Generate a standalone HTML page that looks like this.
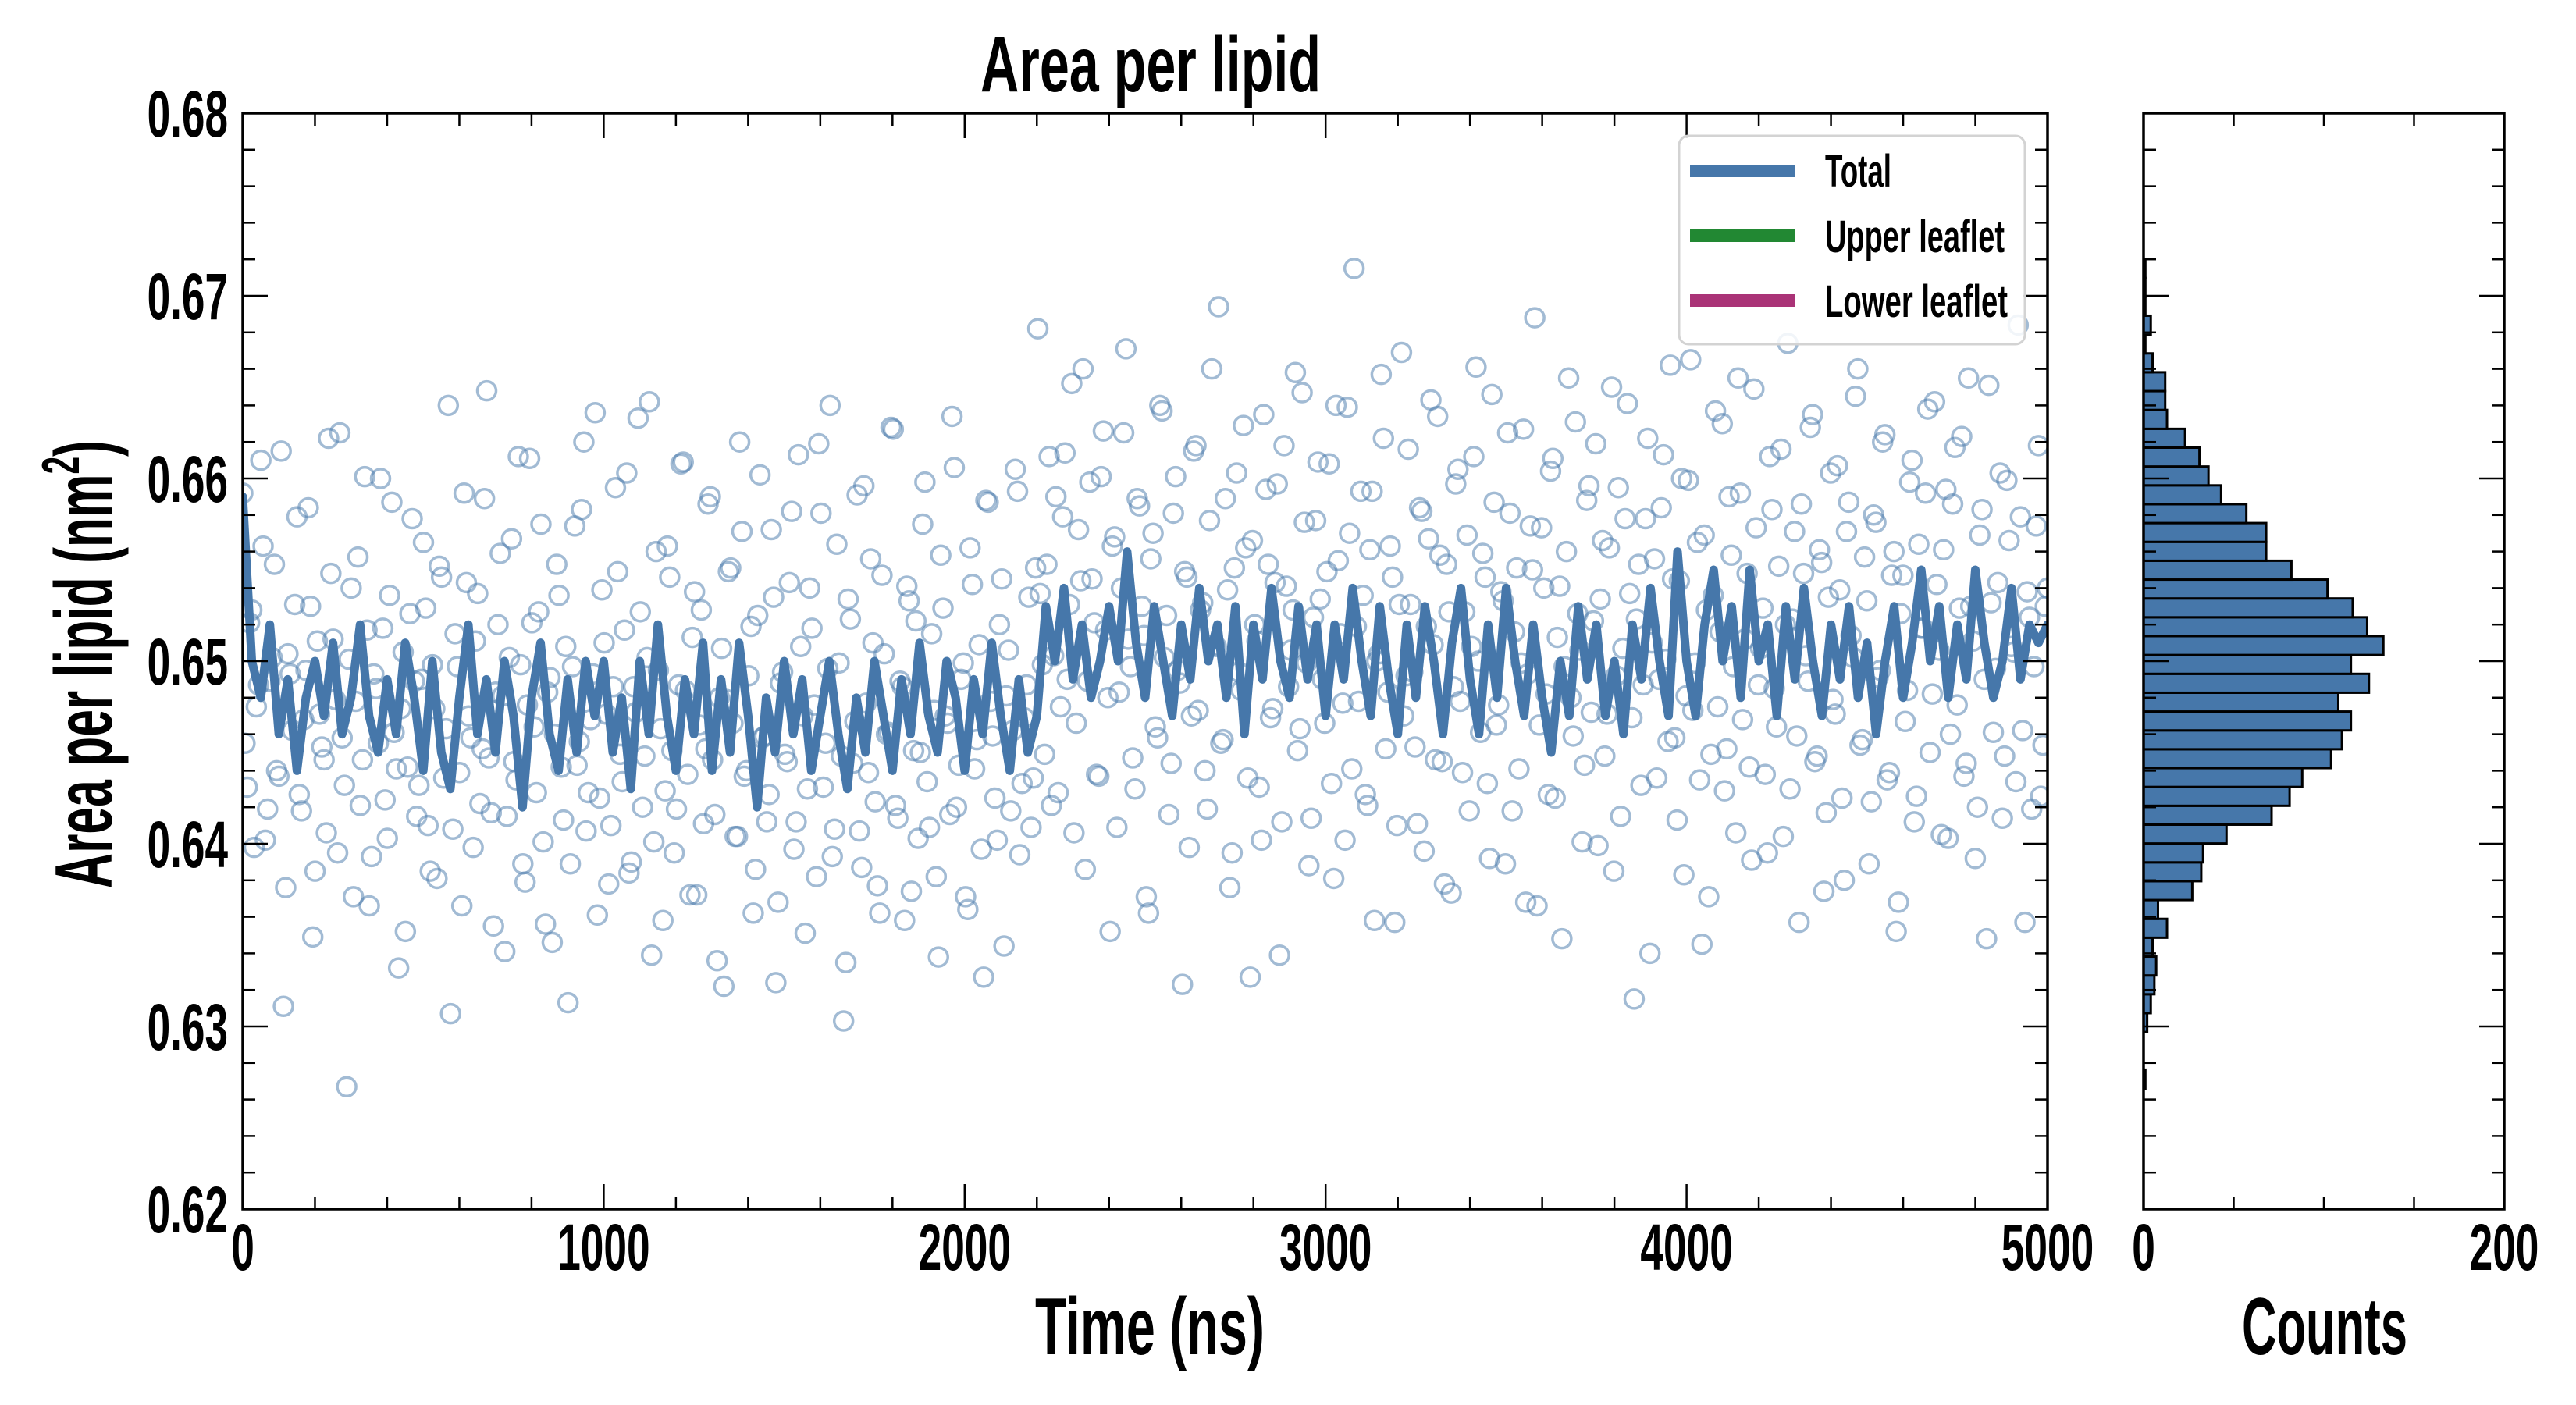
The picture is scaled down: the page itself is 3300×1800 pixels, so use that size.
<!DOCTYPE html>
<html><head><meta charset="utf-8"><style>
html,body{margin:0;padding:0;background:#fff;}
svg{display:block;font-family:"Liberation Sans",sans-serif;font-weight:bold;}
</style></head><body>
<svg id="chart" width="3300" height="1800" viewBox="0 0 3300 1800" xmlns="http://www.w3.org/2000/svg">
<rect x="0" y="0" width="3300" height="1800" fill="#fff"/>
<defs><clipPath id="mainClip"><rect x="311" y="145" width="2312" height="1404"/></clipPath></defs>
<g id="scatter" clip-path="url(#mainClip)"></g>
<g id="lineG" clip-path="url(#mainClip)"></g>
<g id="histG"></g>
<g id="axes"></g>
<g>
 <rect x="2151" y="174" width="443" height="267" rx="12" fill="#fff" fill-opacity="0.85" stroke="#d3d3d3" stroke-width="3"/>
 <rect x="2165" y="211" width="134" height="16" fill="#4677aa"/>
 <rect x="2165" y="294" width="134" height="16" fill="#228833"/>
 <rect x="2165" y="377" width="134" height="16" fill="#aa3377"/>
 <text x="2338" y="239" font-size="58" textLength="85" lengthAdjust="spacingAndGlyphs">Total</text>
 <text x="2338" y="323" font-size="58" textLength="230" lengthAdjust="spacingAndGlyphs">Upper leaflet</text>
 <text x="2338" y="406" font-size="58" textLength="234" lengthAdjust="spacingAndGlyphs">Lower leaflet</text>
</g>
<text x="1256" y="117" font-size="100" textLength="436" lengthAdjust="spacingAndGlyphs">Area per lipid</text>
<text x="1326" y="1735" font-size="104" textLength="294" lengthAdjust="spacingAndGlyphs">Time (ns)</text>
<text x="2872" y="1735" font-size="104" textLength="212" lengthAdjust="spacingAndGlyphs">Counts</text>
<g transform="translate(143,851) rotate(-90) scale(0.6,1)">
 <text x="0" y="0" font-size="104" text-anchor="middle">Area per lipid (nm<tspan font-size="68" dy="-42">2</tspan><tspan dy="42">)</tspan></text>
</g>
</svg>
<script>
const NS='http://www.w3.org/2000/svg';
// ---- data ----
const scatterFirst=[0.6592,0.6431,0.6528,0.6475,0.6610,0.6402,0.6489,0.6553,0.6437,0.6311,0.6504,0.6462,0.6579,0.6418,0.6495,0.6530,0.6385,0.6471,0.6446,0.6622,
0.6512,0.6395,0.6458,0.6267,0.6540,0.6478,0.6421,0.6601,0.6366,0.6493,0.6455,0.6518,0.6403,0.6587,0.6441,0.6474,0.6352,0.6526,0.6489,0.6432,
0.6565,0.6410,0.6498,0.6381,0.6546,0.6463,0.6307,0.6515,0.6439,0.6592,0.6470,0.6398,0.6537,0.6452,0.6648,0.6417,0.6483,0.6559,0.6341,0.6502,
0.6445,0.6612,0.6389,0.6476,0.6521,0.6428,0.6575,0.6356,0.6491,0.6460,0.6536,0.6413,0.6313,0.6497,0.6443,0.6583,0.6407,0.6468,0.6636,0.6425,
0.6510,0.6378,0.6486,0.6549,0.6434,0.6603,0.6390,0.6472,0.6527,0.6448,0.6642,0.6401,0.6495,0.6358,0.6563,0.6451,0.6419,0.6608,0.6484,0.6372,
0.6538,0.6465,0.6411,0.6586,0.6446,0.6336,0.6507,0.6479,0.6551,0.6404,0.6620,0.6437,0.6492,0.6362,0.6525,0.6458,0.6412,0.6572,0.6324,0.6488,
0.6449,0.6543,0.6397,0.6613,0.6470,0.6430,0.6518,0.6382,0.6581,0.6455,0.6640,0.6408,0.6499,0.6303,0.6534,0.6444,0.6591,0.6387,0.6477,0.6556,
0.6423,0.6362,0.6504,0.6461,0.6627,0.6414,0.6486,0.6541,0.6374,0.6522,0.6450,0.6598,0.6409,0.6473,0.6338,0.6529,0.6466,0.6634,0.6420,0.6490,
0.6371,0.6562,0.6441,0.6509,0.6327,0.6587,0.6459,0.6402,0.6545,0.6481,0.6418,0.6605,0.6394,0.6469,0.6535,0.6436];
const scatterSecond=[0.6682,0.6498,0.6553,0.6421,0.6590,0.6475,0.6614,0.6531,0.6406,0.6572,0.6660,0.6489,0.6545,0.6438,0.6601,0.6517,0.6352,0.6568,0.6483,0.6625,
0.6512,0.6447,0.6589,0.6530,0.6371,0.6556,0.6464,0.6640,0.6502,0.6416,0.6581,0.6495,0.6323,0.6546,0.6470,0.6618,0.6528,0.6440,0.6577,0.6509,
0.6694,0.6457,0.6539,0.6395,0.6603,0.6484,0.6562,0.6327,0.6520,0.6431,0.6635,0.6553,0.6474,0.6597,0.6412,0.6541,0.6506,0.6658,0.6463,0.6576,
0.6388,0.6524,0.6609,0.6490,0.6549,0.6433,0.6640,0.6515,0.6402,0.6570,0.6715,0.6478,0.6536,0.6421,0.6593,0.6500,0.6657,0.6452,0.6563,0.6357,
0.6531,0.6470,0.6616,0.6494,0.6411,0.6582,0.6519,0.6643,0.6446,0.6558,0.6378,0.6527,0.6486,0.6605,0.6439,0.6569,0.6508,0.6661,0.6461,0.6546,
0.6392,0.6587,0.6476,0.6533,0.6625,0.6418,0.6551,0.6499,0.6368,0.6574,0.6688,0.6465,0.6540,0.6427,0.6611,0.6513,0.6348,0.6560,0.6480,0.6631,
0.6506,0.6443,0.6596,0.6522,0.6399,0.6566,0.6471,0.6650,0.6492,0.6415,0.6578,0.6537,0.6315,0.6553,0.6487,0.6622,0.6510,0.6436,0.6584,0.6501,
0.6662,0.6458,0.6544,0.6383,0.6599,0.6473,0.6565,0.6345,0.6528,0.6449,0.6637,0.6516,0.6429,0.6590,0.6497,0.6655,0.6468,0.6548,0.6391,0.6573,
0.6507,0.6438,0.6612,0.6485,0.6552,0.6404,0.6674,0.6523,0.6459,0.6586,0.6503,0.6628,0.6445,0.6561,0.6374,0.6535,0.6479,0.6607,0.6425,0.6571,
0.6514,0.6645,0.6454,0.6557,0.6389,0.6580,0.6491,0.6620,0.6435,0.6547,0.6352,0.6526,0.6467,0.6598,0.6412,0.6564,0.6518,0.6638,0.6482,0.6542,
0.6405,0.6594,0.6460,0.6617,0.6529,0.6437,0.6655,0.6511,0.6420,0.6583,0.6348,0.6532,0.6496,0.6603,0.6448,0.6566,0.6505,0.6684,0.6462,0.6538,
0.6419,0.6574,0.6426,0.6530];
const scatterFirstB=[0.6455,0.6521,0.6398,0.6487,0.6563,0.6419,0.6502,0.6440,0.6615,0.6376,0.6493,0.6531,0.6427,0.6468,0.6584,0.6349,0.6511,0.6453,0.6406,0.6548,
0.6479,0.6625,0.6432,0.6501,0.6371,0.6557,0.6446,0.6517,0.6393,0.6485,0.6600,0.6424,0.6536,0.6461,0.6332,0.6505,0.6442,0.6578,0.6415,0.6490,
0.6529,0.6385,0.6474,0.6552,0.6436,0.6640,0.6408,0.6497,0.6366,0.6543,0.6458,0.6511,0.6422,0.6589,0.6447,0.6355,0.6520,0.6481,0.6415,0.6567,
0.6435,0.6498,0.6379,0.6611,0.6464,0.6527,0.6401,0.6483,0.6346,0.6553,0.6442,0.6508,0.6389,0.6574,0.6456,0.6620,0.6428,0.6493,0.6361,0.6539,
0.6471,0.6410,0.6595,0.6449,0.6517,0.6384,0.6486,0.6633,0.6420,0.6502,0.6339,0.6560,0.6463,0.6429,0.6546,0.6395,0.6487,0.6609,0.6438,0.6513,
0.6372,0.6528,0.6452,0.6590,0.6416,0.6480,0.6322,0.6549,0.6466,0.6404,0.6571,0.6440,0.6519,0.6386,0.6602,0.6459,0.6427,0.6535,0.6368,0.6494,
0.6445,0.6582,0.6412,0.6508,0.6351,0.6540,0.6476,0.6619,0.6431,0.6496,0.6393,0.6564,0.6448,0.6335,0.6523,0.6467,0.6407,0.6596,0.6439,0.6510,
0.6377,0.6547,0.6460,0.6628,0.6421,0.6489,0.6358,0.6533,0.6451,0.6403,0.6575,0.6434,0.6515,0.6382,0.6558,0.6470,0.6416,0.6606,0.6443,0.6499,
0.6364,0.6542,0.6457,0.6397,0.6588,0.6478,0.6425,0.6520,0.6344,0.6506,0.6462,0.6593,0.6433,0.6487,0.6409,0.6551];
const scatterSecondB=[0.6537,0.6449,0.6612,0.6503,0.6428,0.6579,0.6490,0.6652,0.6466,0.6544,0.6386,0.6598,0.6521,0.6437,0.6626,0.6480,0.6563,0.6409,0.6540,0.6671,
0.6497,0.6430,0.6585,0.6514,0.6362,0.6570,0.6458,0.6637,0.6525,0.6444,0.6601,0.6488,0.6549,0.6398,0.6615,0.6473,0.6532,0.6419,0.6660,0.6508,
0.6455,0.6589,0.6376,0.6551,0.6494,0.6629,0.6436,0.6566,0.6511,0.6402,0.6594,0.6469,0.6543,0.6339,0.6618,0.6486,0.6528,0.6451,0.6647,0.6499,
0.6414,0.6577,0.6534,0.6466,0.6608,0.6381,0.6555,0.6477,0.6639,0.6441,0.6519,0.6593,0.6427,0.6561,0.6358,0.6504,0.6622,0.6483,0.6546,0.6410,
0.6669,0.6492,0.6531,0.6453,0.6584,0.6396,0.6567,0.6509,0.6634,0.6445,0.6553,0.6373,0.6597,0.6478,0.6527,0.6418,0.6612,0.6500,0.6559,0.6433,
0.6646,0.6465,0.6538,0.6389,0.6581,0.6516,0.6441,0.6627,0.6493,0.6550,0.6366,0.6573,0.6482,0.6604,0.6425,0.6541,0.6497,0.6655,0.6459,0.6526,
0.6401,0.6588,0.6472,0.6619,0.6534,0.6448,0.6562,0.6385,0.6595,0.6507,0.6641,0.6469,0.6523,0.6432,0.6578,0.6340,0.6556,0.6490,0.6613,0.6456,
0.6545,0.6413,0.6600,0.6481,0.6665,0.6499,0.6435,0.6569,0.6371,0.6536,0.6475,0.6630,0.6452,0.6558,0.6406,0.6592,0.6512,0.6442,0.6649,0.6487,
0.6529,0.6395,0.6583,0.6464,0.6616,0.6520,0.6430,0.6571,0.6357,0.6548,0.6489,0.6635,0.6448,0.6554,0.6417,0.6603,0.6471,0.6539,0.6380,0.6587,
0.6502,0.6660,0.6457,0.6533,0.6423,0.6576,0.6495,0.6624,0.6439,0.6560,0.6368,0.6547,0.6484,0.6610,0.6426,0.6518,0.6592,0.6450,0.6642,0.6506,
0.6561,0.6403,0.6586,0.6476,0.6623,0.6444,0.6530,0.6392,0.6569,0.6490,0.6651,0.6461,0.6543,0.6414,0.6599,0.6508,0.6434,0.6579,0.6357,0.6524,
0.6497,0.6618,0.6454,0.6540];
const lineValues=[0.659,0.650,0.648,0.652,0.646,0.649,0.644,0.648,0.650,0.647,0.651,0.646,0.648,0.652,0.647,0.645,0.649,0.646,0.651,0.648,
0.644,0.650,0.645,0.643,0.648,0.652,0.646,0.649,0.645,0.650,0.647,0.642,0.648,0.651,0.646,0.644,0.649,0.645,0.650,0.647,
0.650,0.645,0.648,0.643,0.650,0.646,0.652,0.647,0.644,0.649,0.646,0.651,0.644,0.649,0.645,0.651,0.647,0.642,0.648,0.645,
0.650,0.646,0.649,0.644,0.647,0.650,0.646,0.643,0.648,0.645,0.650,0.647,0.644,0.649,0.646,0.651,0.647,0.645,0.650,0.648,
0.644,0.649,0.646,0.651,0.647,0.644,0.649,0.645,0.647,0.653,0.650,0.654,0.649,0.652,0.648,0.650,0.653,0.650,0.656,0.651,
0.648,0.653,0.650,0.647,0.652,0.649,0.654,0.650,0.652,0.648,0.653,0.646,0.652,0.649,0.654,0.650,0.648,0.653,0.649,0.652,
0.647,0.652,0.649,0.654,0.650,0.647,0.653,0.649,0.646,0.652,0.648,0.653,0.650,0.646,0.651,0.654,0.649,0.646,0.652,0.648,
0.654,0.650,0.647,0.652,0.648,0.645,0.650,0.647,0.653,0.649,0.652,0.647,0.650,0.646,0.652,0.649,0.654,0.650,0.647,0.656,
0.650,0.647,0.652,0.655,0.650,0.653,0.648,0.655,0.650,0.652,0.647,0.653,0.649,0.654,0.650,0.647,0.652,0.649,0.653,0.648,
0.651,0.646,0.650,0.653,0.648,0.651,0.655,0.650,0.653,0.648,0.652,0.649,0.655,0.651,0.648,0.650,0.654,0.649,0.652,0.651,0.652];
const histCounts=[1,0,0,2,4,6,7,5,13,8,27,32,33,46,71,81,88,104,110,115,108,125,115,133,124,116,102,82,68,68,57,43,36,31,23,13,12,12,5,1,4,1,1,1];
const histStart=0.6266;
const histBinWidth=0.001032;
const xTickLabels=['0','1000','2000','3000','4000','5000'];
const yTickLabels=['0.62','0.63','0.64','0.65','0.66','0.67','0.68'];
const histTickLabels=['0','200'];
// ---- axes functions ----
const X0=311,X1=2623,Y0=145,Y1=1549,H0=2746,H1=3208;
const xScale=t=>X0+(t/5000)*(X1-X0);
const yScale=v=>Y1-(v-0.62)/0.06*(Y1-Y0);
const hScale=c=>H0+(c/200)*(H1-H0);
function mk(tag,attrs,parent){const e=document.createElementNS(NS,tag);for(const k in attrs)e.setAttribute(k,attrs[k]);parent.appendChild(e);return e;}
const setA=scatterFirst.concat(scatterSecond);
const setB=scatterFirstB.concat(scatterSecondB);
const scatterValues=[];
for(let i=0;i<setA.length;i++){scatterValues.push(setA[i]);if(i<setB.length)scatterValues.push(setB[i]);}
const sg=document.getElementById('scatter');
const nS=scatterValues.length;
scatterValues.forEach((v,i)=>{
  const c=mk('circle',{cx:xScale(i*5000/(nS-1)),cy:yScale(v),r:12,fill:'none',stroke:'#4677aa','stroke-opacity':0.5,'stroke-width':3.5},sg);
  
  
});
const nL=lineValues.length;
const pts=lineValues.map((v,i)=>xScale(i*5000/(nL-1)).toFixed(1)+','+yScale(v).toFixed(1)).join(' ');
const pl=mk('polyline',{points:pts,fill:'none',stroke:'#4677aa','stroke-width':11,'stroke-linejoin':'round','stroke-linecap':'round'},document.getElementById('lineG'));


const hg=document.getElementById('histG');
histCounts.forEach((c,i)=>{
  const lo=histStart+i*histBinWidth, hi=lo+histBinWidth;
  const ya=yScale(hi), yb=yScale(lo);
  const r=mk('rect',{x:H0,y:ya,width:Math.max(0,hScale(c)-H0),height:yb-ya,fill:'#4677aa',stroke:'#000','stroke-width':3},hg);
  
  
});
const ax=document.getElementById('axes');
function frame(x0,x1){mk('rect',{x:x0,y:Y0,width:x1-x0,height:Y1-Y0,fill:'none',stroke:'#000','stroke-width':3.5},ax);}
frame(X0,X1);frame(H0,H1);
function line(x1,y1,x2,y2,w){mk('line',{x1:x1,y1:y1,x2:x2,y2:y2,stroke:'#000','stroke-width':w||2.5},ax);}
for(let t=0;t<=5000;t+=200){const x=xScale(t);const L=(t%1000===0)?32:16;line(x,Y1,x,Y1-L);line(x,Y0,x,Y0+L);}
for(let k=0;k<=30;k++){const v=0.62+k*0.002;const y=yScale(v);const L=(k%5===0)?32:16;
  line(X0,y,X0+L,y);line(X1,y,X1-L,y);line(H0,y,H0+L,y);line(H1,y,H1-L,y);}
for(let c=0;c<=200;c+=50){const x=hScale(c);line(x,Y1,x,Y1-16);line(x,Y0,x,Y0+16);}
function label(txt,x,y,anchor,name){
  const w=txt.length*29.6-(txt.indexOf('.')>=0?15:0);
  const t=mk('text',{x:x,y:y,'font-size':84,'text-anchor':anchor,textLength:w,lengthAdjust:'spacingAndGlyphs'},ax);
  t.textContent=txt;
  
  
}
xTickLabels.forEach((s,i)=>label(s,xScale(i*1000),1627,'middle','x-tick-label'));
yTickLabels.forEach((s,i)=>label(s,292,yScale(0.62+i*0.01)+30,'end','y-tick-label'));
histTickLabels.forEach((s,i)=>label(s,hScale(i*200),1627,'middle','hist-x-tick-label'));
</script>
</body></html>
